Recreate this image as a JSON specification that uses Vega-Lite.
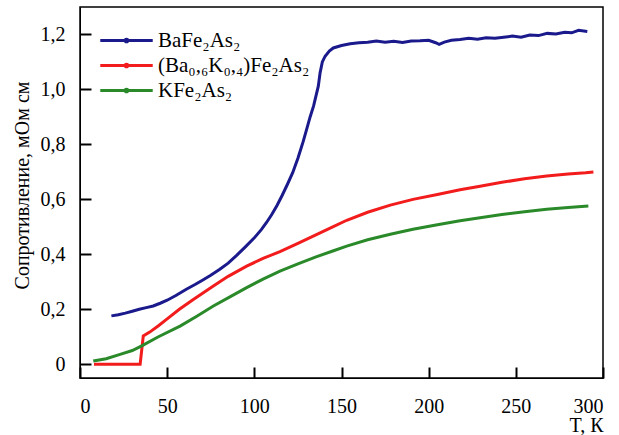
{
  "$schema": "https://vega.github.io/schema/vega-lite/v6.json",
  "autosize": {"type": "none"},
  "width": 523,
  "height": 371,
  "padding": {"left": 80, "top": 7, "right": 16, "bottom": 57},
  "background": "white",
  "config": {
    "view": {"stroke": "black", "strokeWidth": 1.5},
    "axis": {
      "ticks": true,
      "tickColor": "black",
      "tickSize": -11,
      "tickWidth": 2,
      "tickOpacity": 1,
      "labelFont": "Liberation Serif",
      "titleFont": "Liberation Serif"
    },
    "legend": {
      "labelFont": "Liberation Serif",
      "labelFontSize": 21,
      "labelColor": "black",
      "labelLimit": 400
    }
  },
  "data": {
    "values": [
      {"T": 18, "R": 0.176, "s": "BaFe₂As₂"},
      {"T": 22, "R": 0.18, "s": "BaFe₂As₂"},
      {"T": 26, "R": 0.186, "s": "BaFe₂As₂"},
      {"T": 30, "R": 0.193, "s": "BaFe₂As₂"},
      {"T": 34, "R": 0.2, "s": "BaFe₂As₂"},
      {"T": 38, "R": 0.206, "s": "BaFe₂As₂"},
      {"T": 42, "R": 0.212, "s": "BaFe₂As₂"},
      {"T": 46, "R": 0.222, "s": "BaFe₂As₂"},
      {"T": 50, "R": 0.233, "s": "BaFe₂As₂"},
      {"T": 55, "R": 0.25, "s": "BaFe₂As₂"},
      {"T": 61, "R": 0.273, "s": "BaFe₂As₂"},
      {"T": 66, "R": 0.29, "s": "BaFe₂As₂"},
      {"T": 70, "R": 0.305, "s": "BaFe₂As₂"},
      {"T": 75, "R": 0.324, "s": "BaFe₂As₂"},
      {"T": 80, "R": 0.345, "s": "BaFe₂As₂"},
      {"T": 85, "R": 0.368, "s": "BaFe₂As₂"},
      {"T": 90, "R": 0.397, "s": "BaFe₂As₂"},
      {"T": 95, "R": 0.428, "s": "BaFe₂As₂"},
      {"T": 100, "R": 0.46, "s": "BaFe₂As₂"},
      {"T": 104, "R": 0.49, "s": "BaFe₂As₂"},
      {"T": 107, "R": 0.516, "s": "BaFe₂As₂"},
      {"T": 110, "R": 0.545, "s": "BaFe₂As₂"},
      {"T": 113, "R": 0.578, "s": "BaFe₂As₂"},
      {"T": 116, "R": 0.615, "s": "BaFe₂As₂"},
      {"T": 119, "R": 0.655, "s": "BaFe₂As₂"},
      {"T": 122, "R": 0.697, "s": "BaFe₂As₂"},
      {"T": 125, "R": 0.75, "s": "BaFe₂As₂"},
      {"T": 128, "R": 0.81, "s": "BaFe₂As₂"},
      {"T": 130, "R": 0.855, "s": "BaFe₂As₂"},
      {"T": 132, "R": 0.9, "s": "BaFe₂As₂"},
      {"T": 134, "R": 0.94, "s": "BaFe₂As₂"},
      {"T": 135.5, "R": 0.98, "s": "BaFe₂As₂"},
      {"T": 136.7, "R": 1.012, "s": "BaFe₂As₂"},
      {"T": 137.7, "R": 1.06, "s": "BaFe₂As₂"},
      {"T": 139, "R": 1.1, "s": "BaFe₂As₂"},
      {"T": 140.6, "R": 1.121, "s": "BaFe₂As₂"},
      {"T": 143, "R": 1.14, "s": "BaFe₂As₂"},
      {"T": 145.3, "R": 1.151, "s": "BaFe₂As₂"},
      {"T": 150, "R": 1.16, "s": "BaFe₂As₂"},
      {"T": 155, "R": 1.166, "s": "BaFe₂As₂"},
      {"T": 160, "R": 1.17, "s": "BaFe₂As₂"},
      {"T": 165, "R": 1.172, "s": "BaFe₂As₂"},
      {"T": 170, "R": 1.176, "s": "BaFe₂As₂"},
      {"T": 175, "R": 1.172, "s": "BaFe₂As₂"},
      {"T": 180, "R": 1.175, "s": "BaFe₂As₂"},
      {"T": 185, "R": 1.171, "s": "BaFe₂As₂"},
      {"T": 190, "R": 1.176, "s": "BaFe₂As₂"},
      {"T": 195, "R": 1.177, "s": "BaFe₂As₂"},
      {"T": 200, "R": 1.179, "s": "BaFe₂As₂"},
      {"T": 204, "R": 1.17, "s": "BaFe₂As₂"},
      {"T": 206, "R": 1.164, "s": "BaFe₂As₂"},
      {"T": 209, "R": 1.172, "s": "BaFe₂As₂"},
      {"T": 213, "R": 1.179, "s": "BaFe₂As₂"},
      {"T": 218, "R": 1.182, "s": "BaFe₂As₂"},
      {"T": 223, "R": 1.186, "s": "BaFe₂As₂"},
      {"T": 228, "R": 1.183, "s": "BaFe₂As₂"},
      {"T": 233, "R": 1.188, "s": "BaFe₂As₂"},
      {"T": 238, "R": 1.186, "s": "BaFe₂As₂"},
      {"T": 243, "R": 1.19, "s": "BaFe₂As₂"},
      {"T": 248, "R": 1.194, "s": "BaFe₂As₂"},
      {"T": 253, "R": 1.19, "s": "BaFe₂As₂"},
      {"T": 258, "R": 1.198, "s": "BaFe₂As₂"},
      {"T": 263, "R": 1.196, "s": "BaFe₂As₂"},
      {"T": 268, "R": 1.204, "s": "BaFe₂As₂"},
      {"T": 273, "R": 1.202, "s": "BaFe₂As₂"},
      {"T": 278, "R": 1.208, "s": "BaFe₂As₂"},
      {"T": 282, "R": 1.206, "s": "BaFe₂As₂"},
      {"T": 286, "R": 1.215, "s": "BaFe₂As₂"},
      {"T": 291, "R": 1.211, "s": "BaFe₂As₂"},

      {"T": 8, "R": 0.0, "s": "(Ba₀,₆K₀,₄)Fe₂As₂"},
      {"T": 20, "R": 0.0, "s": "(Ba₀,₆K₀,₄)Fe₂As₂"},
      {"T": 34.5, "R": 0.0, "s": "(Ba₀,₆K₀,₄)Fe₂As₂"},
      {"T": 36.3, "R": 0.103, "s": "(Ba₀,₆K₀,₄)Fe₂As₂"},
      {"T": 40, "R": 0.117, "s": "(Ba₀,₆K₀,₄)Fe₂As₂"},
      {"T": 45, "R": 0.14, "s": "(Ba₀,₆K₀,₄)Fe₂As₂"},
      {"T": 50, "R": 0.165, "s": "(Ba₀,₆K₀,₄)Fe₂As₂"},
      {"T": 57, "R": 0.2, "s": "(Ba₀,₆K₀,₄)Fe₂As₂"},
      {"T": 65, "R": 0.236, "s": "(Ba₀,₆K₀,₄)Fe₂As₂"},
      {"T": 76.5, "R": 0.285, "s": "(Ba₀,₆K₀,₄)Fe₂As₂"},
      {"T": 85, "R": 0.32, "s": "(Ba₀,₆K₀,₄)Fe₂As₂"},
      {"T": 95.6, "R": 0.357, "s": "(Ba₀,₆K₀,₄)Fe₂As₂"},
      {"T": 105, "R": 0.385, "s": "(Ba₀,₆K₀,₄)Fe₂As₂"},
      {"T": 114.7, "R": 0.41, "s": "(Ba₀,₆K₀,₄)Fe₂As₂"},
      {"T": 125, "R": 0.44, "s": "(Ba₀,₆K₀,₄)Fe₂As₂"},
      {"T": 135, "R": 0.47, "s": "(Ba₀,₆K₀,₄)Fe₂As₂"},
      {"T": 145, "R": 0.5, "s": "(Ba₀,₆K₀,₄)Fe₂As₂"},
      {"T": 153, "R": 0.524, "s": "(Ba₀,₆K₀,₄)Fe₂As₂"},
      {"T": 165, "R": 0.553, "s": "(Ba₀,₆K₀,₄)Fe₂As₂"},
      {"T": 178, "R": 0.579, "s": "(Ba₀,₆K₀,₄)Fe₂As₂"},
      {"T": 191, "R": 0.6, "s": "(Ba₀,₆K₀,₄)Fe₂As₂"},
      {"T": 205, "R": 0.618, "s": "(Ba₀,₆K₀,₄)Fe₂As₂"},
      {"T": 218, "R": 0.635, "s": "(Ba₀,₆K₀,₄)Fe₂As₂"},
      {"T": 229.5, "R": 0.648, "s": "(Ba₀,₆K₀,₄)Fe₂As₂"},
      {"T": 242, "R": 0.662, "s": "(Ba₀,₆K₀,₄)Fe₂As₂"},
      {"T": 255, "R": 0.675, "s": "(Ba₀,₆K₀,₄)Fe₂As₂"},
      {"T": 267.7, "R": 0.685, "s": "(Ba₀,₆K₀,₄)Fe₂As₂"},
      {"T": 280, "R": 0.692, "s": "(Ba₀,₆K₀,₄)Fe₂As₂"},
      {"T": 290, "R": 0.697, "s": "(Ba₀,₆K₀,₄)Fe₂As₂"},
      {"T": 294.5, "R": 0.7, "s": "(Ba₀,₆K₀,₄)Fe₂As₂"},

      {"T": 7.6, "R": 0.012, "s": "KFe₂As₂"},
      {"T": 15, "R": 0.02, "s": "KFe₂As₂"},
      {"T": 23, "R": 0.036, "s": "KFe₂As₂"},
      {"T": 30, "R": 0.05, "s": "KFe₂As₂"},
      {"T": 35.4, "R": 0.067, "s": "KFe₂As₂"},
      {"T": 45, "R": 0.1, "s": "KFe₂As₂"},
      {"T": 57.4, "R": 0.139, "s": "KFe₂As₂"},
      {"T": 67, "R": 0.175, "s": "KFe₂As₂"},
      {"T": 76.5, "R": 0.212, "s": "KFe₂As₂"},
      {"T": 86, "R": 0.245, "s": "KFe₂As₂"},
      {"T": 95.6, "R": 0.279, "s": "KFe₂As₂"},
      {"T": 105, "R": 0.31, "s": "KFe₂As₂"},
      {"T": 114.7, "R": 0.339, "s": "KFe₂As₂"},
      {"T": 125, "R": 0.365, "s": "KFe₂As₂"},
      {"T": 135, "R": 0.39, "s": "KFe₂As₂"},
      {"T": 145, "R": 0.412, "s": "KFe₂As₂"},
      {"T": 153, "R": 0.43, "s": "KFe₂As₂"},
      {"T": 165, "R": 0.453, "s": "KFe₂As₂"},
      {"T": 178, "R": 0.473, "s": "KFe₂As₂"},
      {"T": 191, "R": 0.491, "s": "KFe₂As₂"},
      {"T": 205, "R": 0.508, "s": "KFe₂As₂"},
      {"T": 218, "R": 0.522, "s": "KFe₂As₂"},
      {"T": 229.5, "R": 0.533, "s": "KFe₂As₂"},
      {"T": 242, "R": 0.545, "s": "KFe₂As₂"},
      {"T": 255, "R": 0.555, "s": "KFe₂As₂"},
      {"T": 267.7, "R": 0.564, "s": "KFe₂As₂"},
      {"T": 280, "R": 0.57, "s": "KFe₂As₂"},
      {"T": 291.6, "R": 0.576, "s": "KFe₂As₂"}
    ]
  },
  "mark": {"type": "line", "strokeWidth": 3},
  "encoding": {
    "x": {
      "field": "T",
      "type": "quantitative",
      "scale": {"domain": [0, 300], "nice": false, "zero": false},
      "axis": {
        "values": [0, 50, 100, 150, 200, 250, 300],
        "ticks": true,
        "tickColor": "black",
        "tickSize": -11,
        "tickWidth": 2,
        "gridOpacity": 0,
        "domainColor": "black",
        "labelFont": "Liberation Serif",
        "labelFontSize": 20,
        "labelColor": "black",
        "labelPadding": 29,
        "title": "T, К",
        "titleFont": "Liberation Serif",
        "titleFontSize": 20,
        "titleFontWeight": "normal",
        "titleColor": "black",
        "titleAnchor": "end",
        "titleAlign": "right",
        "titlePadding": -1
      }
    },
    "y": {
      "field": "R",
      "type": "quantitative",
      "scale": {"domain": [-0.05, 1.3], "nice": false, "zero": false},
      "axis": {
        "values": [0, 0.2, 0.4, 0.6, 0.8, 1.0, 1.2],
        "ticks": true,
        "tickColor": "black",
        "tickSize": -11,
        "tickWidth": 2,
        "gridOpacity": 0,
        "domainColor": "black",
        "labelFont": "Liberation Serif",
        "labelFontSize": 20,
        "labelColor": "black",
        "labelPadding": 26,
        "labelExpr": "datum.value == 0 ? '0' : replace(format(datum.value, '.1f'), '.', ',')",
        "title": "Сопротивление, мОм см",
        "titleFont": "Liberation Serif",
        "titleFontSize": 20,
        "titleFontWeight": "normal",
        "titleColor": "black",
        "titlePadding": 8,
        "titleY": 178
      }
    },
    "color": {
      "field": "s",
      "type": "nominal",
      "sort": ["BaFe₂As₂", "(Ba₀,₆K₀,₄)Fe₂As₂", "KFe₂As₂"],
      "scale": {
        "domain": ["BaFe₂As₂", "(Ba₀,₆K₀,₄)Fe₂As₂", "KFe₂As₂"],
        "range": ["#1a1a8c", "#f21c1c", "#2a8a2a"]
      },
      "legend": {
        "title": null,
        "orient": "none",
        "legendX": 36,
        "legendY": 23,
        "symbolType": "M-5,0H5M-0.25,0A0.25,0.25,0,1,1,0.25,0A0.25,0.25,0,1,1,-0.25,0",
        "symbolSize": 110,
        "symbolStrokeWidth": 3,
        "labelOffset": 21,
        "rowPadding": 3
      }
    }
  }
}
